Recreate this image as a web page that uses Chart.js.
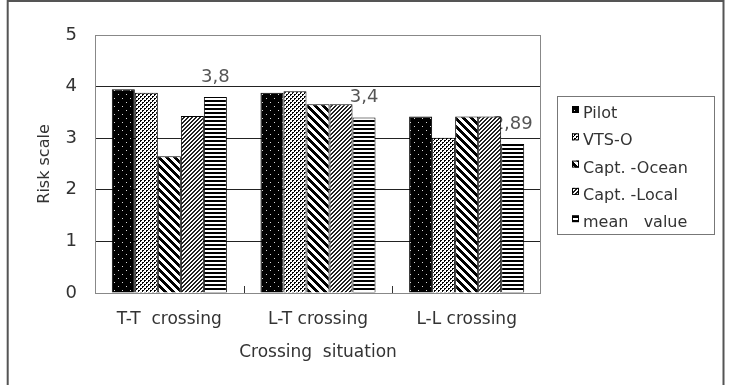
<!DOCTYPE html>
<html>
<head>
<meta charset="utf-8">
<script src="https://cdn.jsdelivr.net/npm/chart.js@4/dist/chart.umd.min.js"></script>
<style>
  html, body { margin: 0; padding: 0; background: #fff; }
  #wrap { width: 732px; height: 385px; }
</style>
</head>
<body>
<div id="wrap"><canvas id="risk_chart" width="732" height="385"></canvas></div>
<script>
const situations = ['T-T  crossing', 'L-T crossing', 'L-L crossing'];
const pilot = [3.95, 3.88, 3.42];
const vts_o = [3.88, 3.91, 3.01];
const capt_ocean = [2.65, 3.66, 3.42];
const capt_local = [3.43, 3.66, 3.42];
const mean_value = [3.8, 3.4, 2.89];
const series_names = ['Pilot', 'VTS-O', 'Capt. -Ocean', 'Capt. -Local', 'mean   value'];
const y_ticks = [0, 1, 2, 3, 4, 5];

const FONT = 'DejaVu Sans';

function makePattern(w, h, paint){
    const c = document.createElement('canvas');
    c.width = w;
    c.height = h;
    const g = c.getContext('2d');
    g.fillStyle = '#fff';
    g.fillRect(0, 0, w, h);
    for(let y = 0; y < h; y++){
        for(let x = 0; x < w; x++){
            const col = paint(x, y);
            if(col){
                g.fillStyle = col;
                g.fillRect(x, y, 1, 1);
            }
        }
    }
    return g.createPattern(c, 'repeat');
}

// black with sparse light dots
const pilotFill = makePattern(8, 8, (x, y) => ((x == 2 && y == 2) || (x == 6 && y == 6)) ? '#d8d8d8' : '#000');
// stipple, white holes in a dotted mesh
const vtsDots = ['0,0', '1,0', '0,1', '2,2', '3,2', '2,3'];
const vtsFill = makePattern(4, 4, (x, y) => vtsDots.includes(x + ',' + y) ? '#000' : null);
// wide "\" stripes
const oceanFill = makePattern(8, 8, (x, y) => ((x - y + 16) % 8) < 4 ? '#000' : null);
// fine "/" hatch
const localFill = makePattern(4, 4, (x, y) => ((x + y) % 4) < 2 ? '#222' : null);
// horizontal stripes
const meanFill = makePattern(4, 4, (x, y) => (y % 4) < 2 ? '#000' : null);

const fills = [pilotFill, vtsFill, oceanFill, localFill, meanFill];
const values = [pilot, vts_o, capt_ocean, capt_local, mean_value];

// value labels over the mean bars, drawn before the bars so they can hide them
const meanLabels = {
    id: 'meanLabels',
    beforeDatasetsDraw(chart){
        const ctx = chart.ctx;
        const meta = chart.getDatasetMeta(4);
        ctx.save();
        ctx.font = '18px "' + FONT + '"';
        ctx.fillStyle = '#555';
        ctx.textAlign = 'center';
        ctx.textBaseline = 'middle';
        meta.data.forEach((bar, i) => {
            const txt = String(mean_value[i]).replace('.', ',');
            ctx.fillText(txt, bar.x, bar.y - 20);
        });
        ctx.restore();
    }
};

// frame, plot box, small inner ticks and the boxed legend
const decorations = {
    id: 'decorations',
    afterDraw(chart){
        const ctx = chart.ctx;
        const a = chart.chartArea;
        const xs = chart.scales.x;
        ctx.save();

        // plot box
        ctx.strokeStyle = '#888';
        ctx.lineWidth = 1;
        ctx.strokeRect(a.left + 0.5, a.top + 0.5, a.right - a.left - 1, a.bottom - a.top);

        // inner ticks between categories
        ctx.strokeStyle = '#333';
        for(let i = 1; i < situations.length; i++){
            const bx = Math.round((xs.getPixelForValue(i - 1) + xs.getPixelForValue(i)) / 2) + 0.5;
            ctx.beginPath();
            ctx.moveTo(bx, a.bottom);
            ctx.lineTo(bx, a.bottom - 7);
            ctx.stroke();
        }

        // legend
        const lx = 557, ly = 96, lw = 157, lh = 138;
        ctx.strokeStyle = '#777';
        ctx.strokeRect(lx + 0.5, ly + 0.5, lw, lh);
        ctx.font = '16px "' + FONT + '"';
        ctx.textBaseline = 'middle';
        ctx.textAlign = 'left';
        chart.data.datasets.forEach((ds, i) => {
            const cy = 114 + i * 27.3;
            ctx.fillStyle = ds.backgroundColor;
            ctx.fillRect(572, cy - 8, 7, 7);
            ctx.strokeStyle = '#000';
            ctx.strokeRect(572.5, cy - 7.5, 6, 6);
            ctx.fillStyle = '#333';
            ctx.fillText(ds.label, 583, cy);
        });

        // outer frame
        ctx.strokeStyle = '#555';
        ctx.lineWidth = 2;
        ctx.beginPath();
        ctx.moveTo(7.7, 385);
        ctx.lineTo(7.7, 1);
        ctx.lineTo(723.5, 1);
        ctx.lineTo(723.5, 385);
        ctx.stroke();

        ctx.restore();
    }
};

const datasets = series_names.map((name, i) => ({
    label: name,
    data: values[i],
    backgroundColor: fills[i],
    borderColor: '#000',
    borderWidth: 1,
    borderSkipped: 'bottom',
    categoryPercentage: 0.774,
    barPercentage: 1.0
}));

const ctx = document.getElementById('risk_chart').getContext('2d');
const risk_chart = new Chart(ctx, {
    type: 'bar',
    data: {
        labels: situations,
        datasets: datasets
    },
    plugins: [meanLabels, decorations],
    options: {
        responsive: false,
        animation: false,
        layout: {
            padding: { left: 0, right: 191, top: 35, bottom: 0 }
        },
        plugins: {
            legend: { display: false },
            tooltip: { enabled: false }
        },
        scales: {
            x: {
                grid: { display: false, drawTicks: false },
                border: { display: false },
                ticks: {
                    padding: 16,
                    color: '#333',
                    font: { family: FONT, size: 17 }
                },
                title: {
                    display: true,
                    text: 'Crossing  situation',
                    color: '#333',
                    font: { family: FONT, size: 17 },
                    padding: { top: 0, bottom: 22 }
                },
                afterFit(scale){ scale.height = 92; }
            },
            y: {
                min: 0,
                max: 5,
                afterBuildTicks(scale){
                    scale.ticks = y_ticks.map(v => ({ value: v }));
                },
                grid: {
                    drawTicks: false,
                    color: c => (c.tick && (c.tick.value == 0 || c.tick.value == 5)) ? '#888' : '#222',
                    lineWidth: 1
                },
                border: { display: false },
                ticks: {
                    padding: 18,
                    color: '#333',
                    font: { family: FONT, size: 18 }
                },
                title: {
                    display: true,
                    text: 'Risk scale',
                    color: '#333',
                    font: { family: FONT, size: 16 },
                    padding: { top: 35, bottom: 0 }
                },
                afterFit(scale){ scale.width = 95; }
            }
        }
    }
});
</script>
</body>
</html>
